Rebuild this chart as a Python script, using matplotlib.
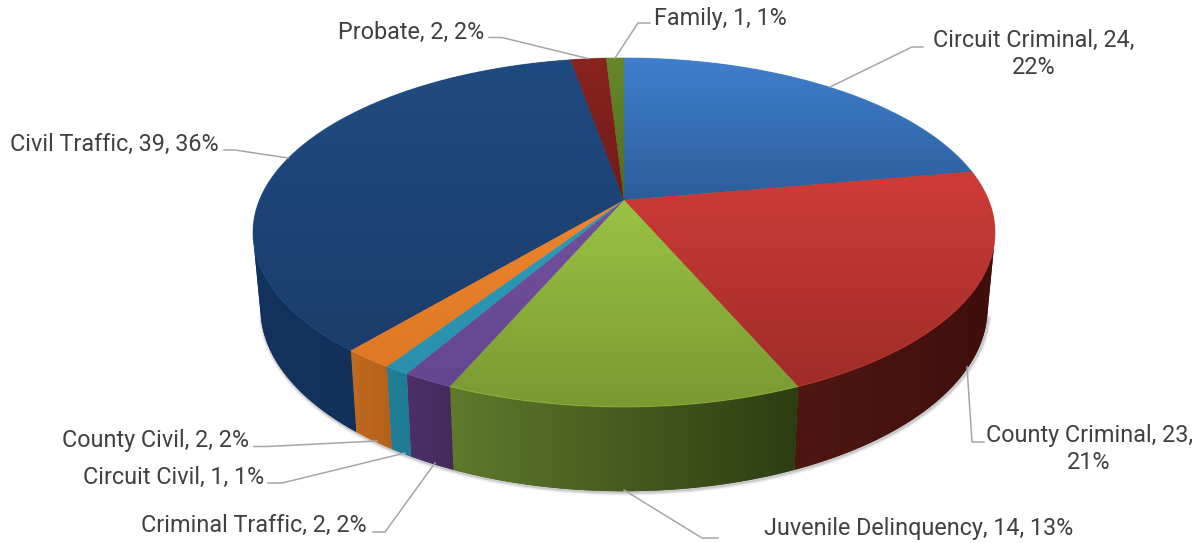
import numpy as np
import matplotlib
matplotlib.use("Agg")
import matplotlib.pyplot as plt
from matplotlib.colors import to_rgb
from matplotlib.patches import Polygon
from matplotlib.path import Path
from matplotlib.transforms import Transform, Affine2D

# ---- data -------------------------------------------------------------
categories = ["Circuit Criminal", "County Criminal", "Juvenile Delinquency",
              "Criminal Traffic", "Circuit Civil", "County Civil",
              "Civil Traffic", "Probate", "Family"]
values = [24, 23, 14, 2, 1, 2, 39, 2, 1]

# ---- style ------------------------------------------------------------
top_light = ["#3f7fcd", "#cf3c38", "#9ac344", "#74509c", "#2b9cbb", "#ee8530", "#204b82", "#8a2420", "#66892a"]
top_dark = ["#2c5d9a", "#9f2c29", "#7a9932", "#654690", "#2a8fab", "#de7823", "#1b3d6b", "#6f1b18", "#4f6b1f"]
side_left = ["#1f3f66", "#4f1711", "#5f7a2b", "#4d3068", "#217f99", "#c26a20", "#13335e", "#501410", "#3f5518"]
side_right = ["#1f3f66", "#3f0f0c", "#2c3d12", "#46295c", "#1f7a92", "#b3611b", "#12305a", "#501410", "#3f5518"]
FONT = "Roboto"
FS = 16.8
TXT = "#404040"
LEAD = "#a6a6a6"

W, H = 1199, 543
CX, CY, A, B, K = 624.0, 200.0, 364.5, 168.4, 0.186
SX, SY, DY = 0.98, 1.05, 74.0


def project(x, y):
    d = 1 + K * y
    return CX + A * x / d, CY - B * y / d


def project_low(x, y):
    px, py = project(x, y)
    return CX + SX * (px - CX), CY + DY + SY * (py - CY)


def facing_viewer(t):
    """True where the outer wall at angle t (radians) faces the viewer."""
    def cross(u):
        e = 1e-3
        x0, y0 = project(np.cos(u), np.sin(u))
        x1, y1 = project(np.cos(u + e), np.sin(u + e))
        lx, ly = project_low(np.cos(u), np.sin(u))
        return (x1 - x0) * (ly - y0) - (y1 - y0) * (lx - x0)
    return cross(t) * cross(np.array(-np.pi / 2)) > 0


class Perspective(Transform):
    input_dims = output_dims = 2
    is_separable = False
    has_inverse = False

    def transform_non_affine(self, v):
        v = np.asarray(v, float)
        return np.column_stack(project(v[:, 0], v[:, 1]))

    def transform_path_non_affine(self, path):
        polys = path.to_polygons(transform=Affine2D().scale(2000), closed_only=False)
        return Path(self.transform_non_affine(polys[0] / 2000))


fig = plt.figure(figsize=(W / 100, H / 100), dpi=100, facecolor="white")
ax = fig.add_axes([0, 0, 1, 1])

wedges, _ = ax.pie(values, startangle=90, counterclock=False, colors=top_dark)
ax.set_aspect("auto")
ax.set_xlim(0, W)
ax.set_ylim(H, 0)
ax.axis("off")


def gradient(clip, c1, c2, horizontal, box, z):
    a, b = np.array(to_rgb(c1)), np.array(to_rgb(c2))
    t = np.linspace(0, 1, 256)
    ramp = a[None, :] * (1 - t)[:, None] + b[None, :] * t[:, None]
    img = ramp[None, :, :] if horizontal else ramp[:, None, :]
    im = ax.imshow(img, extent=(box[0], box[1], box[3], box[2]), aspect="auto",
                   interpolation="bilinear", zorder=z)
    im.set_clip_path(clip)
    return im


persp = Perspective()
thetas = [(w.theta1, w.theta2) for w in wedges]

# soft shadow under the lower rim
ts = np.linspace(0, 2 * np.pi, 1440)
ts = ts[facing_viewer(ts)]
ts = np.sort((ts + np.pi) % (2 * np.pi))
sx, sy = project_low(np.cos(ts - np.pi), np.sin(ts - np.pi))
for lw, al in [(7, 0.05), (5, 0.08), (3, 0.14)]:
    ax.plot(sx + 1, sy + 1, color="#303030", lw=lw * 0.72, alpha=al, zorder=1,
            solid_capstyle="round")

# outer wall of each slice (only the part that faces the viewer)
for i, (t1, t2) in enumerate(thetas):
    t = np.radians(np.linspace(t1, t2, 400))
    t = t[facing_viewer(t)]
    if t.size < 2:
        continue
    tx, ty = project(np.cos(t), np.sin(t))
    lx, ly = project_low(np.cos(t), np.sin(t))
    pts = np.column_stack([np.r_[tx, lx[::-1]], np.r_[ty, ly[::-1]]])
    face = Polygon(pts, closed=True, facecolor=side_right[i], edgecolor="none",
                   transform=ax.transData, zorder=2)
    ax.add_patch(face)
    gradient(face, side_left[i], side_right[i], True,
             (pts[:, 0].min(), pts[:, 0].max(), 0, H), 2.5)

# top face of each slice, squeezed through the perspective
for i, (w, (t1, t2)) in enumerate(zip(wedges, thetas)):
    w.set_transform(persp + ax.transData)
    w.set_clip_on(False)
    w.set_zorder(3)
    w.set_linewidth(0)
    w.set_edgecolor("none")
    t = np.radians(np.linspace(t1, t2, 120))
    tx, ty = project(np.cos(t), np.sin(t))
    box = (0, W, min(ty.min(), CY), max(ty.max(), CY))
    gradient(w, top_light[i], top_dark[i], False, box, 3.5)

# highlight along the rim
for i, (t1, t2) in enumerate(thetas):
    t = np.radians(np.linspace(t1, t2, 120))
    tx, ty = project(np.cos(t), np.sin(t))
    ax.plot(tx, ty, color=top_light[i], lw=0.8, alpha=0.55, zorder=4)

# ---- data labels ------------------------------------------------------
total = sum(values)


def label(i, wrap=False):
    pct = round(100 * values[i] / total)
    if wrap:
        return f"{categories[i]}, {values[i]},\n{pct}%"
    return f"{categories[i]}, {values[i]}, {pct}%"


placements = {
    0: (1034, 54, "center", True),
    1: (1089, 449, "center", True),
    2: (919, 529, "center", False),
    3: (367, 525, "right", False),
    4: (264, 477, "right", False),
    5: (249, 441, "right", False),
    6: (219, 144, "right", False),
    7: (484, 32, "right", False),
    8: (654, 18, "left", False),
}
leaders = {
    0: ([923, 912, 830], [47, 47, 87]),
    1: ([967, 972, 984], [367, 442, 442]),
    2: ([624, 702, 718], [490, 538, 538]),
    3: ([373, 385, 435], [532, 532, 463]),
    4: ([268, 282, 405], [483, 483, 453]),
    5: ([254, 267, 377], [446.5, 446.5, 441]),
    6: ([224, 235, 288], [150, 150, 158]),
    7: ([489, 502, 588], [37.5, 37.5, 58.5]),
    8: ([650, 638, 615], [23, 23, 58]),
}
for i in range(len(values)):
    x, y, ha, wrap = placements[i]
    ax.text(x, y, label(i, wrap), ha=ha, va="center", ma="center", family=FONT,
            fontsize=FS, color=TXT, linespacing=1.2, zorder=6)
    lx, ly = leaders[i]
    ax.plot(lx, ly, color=LEAD, lw=1.1, zorder=5, solid_joinstyle="round")

fig.savefig("out.png", dpi=100, facecolor="white")
